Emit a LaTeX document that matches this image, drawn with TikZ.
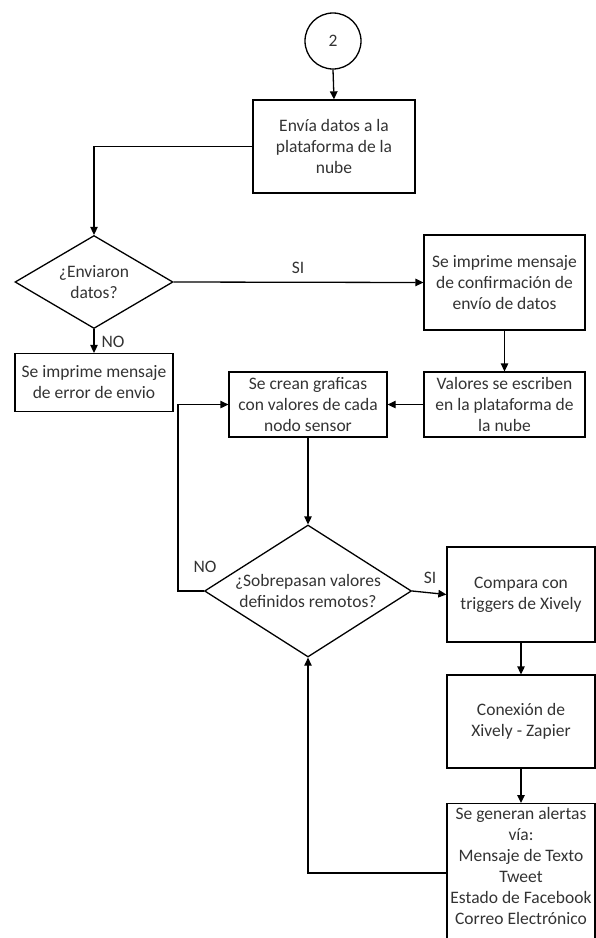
\documentclass[tikz,border=0pt]{standalone}
\usepackage{fontspec}
\setmainfont{Carlito}
\usetikzlibrary{shapes.geometric,arrows.meta}
\begin{document}
\begin{tikzpicture}[x=1pt,y=-1pt,
  every node/.style={font=\fontsize{17.5}{21}\selectfont, text=black!80},
  box/.style={draw, line width=1.3pt, rectangle, align=center, inner sep=1pt},
  dec/.style={draw, line width=1.3pt, diamond, inner sep=0pt},
  arr/.style={draw, line width=1.3pt, -{Triangle[length=8pt,width=7.5pt]}},
  lbl/.style={inner sep=1pt}]
\clip (0,0) rectangle (596,938);
\node[draw, circle, line width=1.3pt, minimum size=56pt, inner sep=0pt] (c2) at (333,41) {2};
\node[box, minimum width=162pt, minimum height=93pt] (b1) at (334,146.5) {Envía datos a la\\plataforma de la\\nube};
\node[dec, minimum width=158pt, minimum height=93pt, label={[align=center]center:¿Enviaron\\datos?}] (d1) at (94,282) {};
\node[box, minimum width=158pt, minimum height=58pt] (e1) at (94,382.5) {Se imprime mensaje\\de error de envio};
\node[box, minimum width=161pt, minimum height=95pt] (b2) at (504.5,282.5) {Se imprime mensaje\\de confirmación de\\envío de datos};
\node[box, minimum width=161pt, minimum height=65pt] (b3) at (504.5,404.5) {Valores se escriben\\en la plataforma de\\la nube};
\node[box, minimum width=158pt, minimum height=65pt] (b4) at (308,404.5) {Se crean graficas\\con valores de cada\\nodo sensor};
\node[dec, minimum width=207pt, minimum height=132pt, label={[align=center]center:¿Sobrepasan valores\\definidos remotos?}] (d2) at (308,591) {};
\node[box, minimum width=148pt, minimum height=95pt] (b5) at (521,594.5) {Compara con\\triggers de Xively};
\node[box, minimum width=148pt, minimum height=93pt] (b6) at (521,721.5) {Conexión de\\Xively - Zapier};
\node[box, minimum width=148pt, minimum height=142pt, anchor=north] (b7) at (521,803) {};
\node[align=center, anchor=north, inner sep=0pt] (t7) at (521,807) {Se generan alertas\\vía:\\Mensaje de Texto\\Tweet\\Estado de Facebook\\Correo Electrónico};
\coordinate (l1) at (178,591);
\draw[arr] (c2.south) -- (b1.north);
\draw[arr] (b1.west) -| (d1.north);
\draw[arr] (d1.south) -- (e1.north);
\draw[arr] (d1.east) -- (b2.west);
\draw[arr] (b2.south) -- (b3.north);
\draw[arr] (b3.west) -- (b4.east);
\draw[arr] (b4.south) -- (d2.north);
\draw[arr] (d2.west) -- (l1) |- (b4.west);
\draw[arr] (d2.east) -- (b5.west);
\draw[arr] (b5.south) -- (b6.north);
\draw[arr] (b6.south) -- (b7.north);
\draw[arr] (b7.west |- 0,873) -| (d2.south);
\node[lbl] (no1) at (113,342) {NO};
\node[lbl] (si1) at (298,268) {SI};
\node[lbl] (no2) at (205,567) {NO};
\node[lbl] (si2) at (430,578) {SI};
\end{tikzpicture}
\end{document}
